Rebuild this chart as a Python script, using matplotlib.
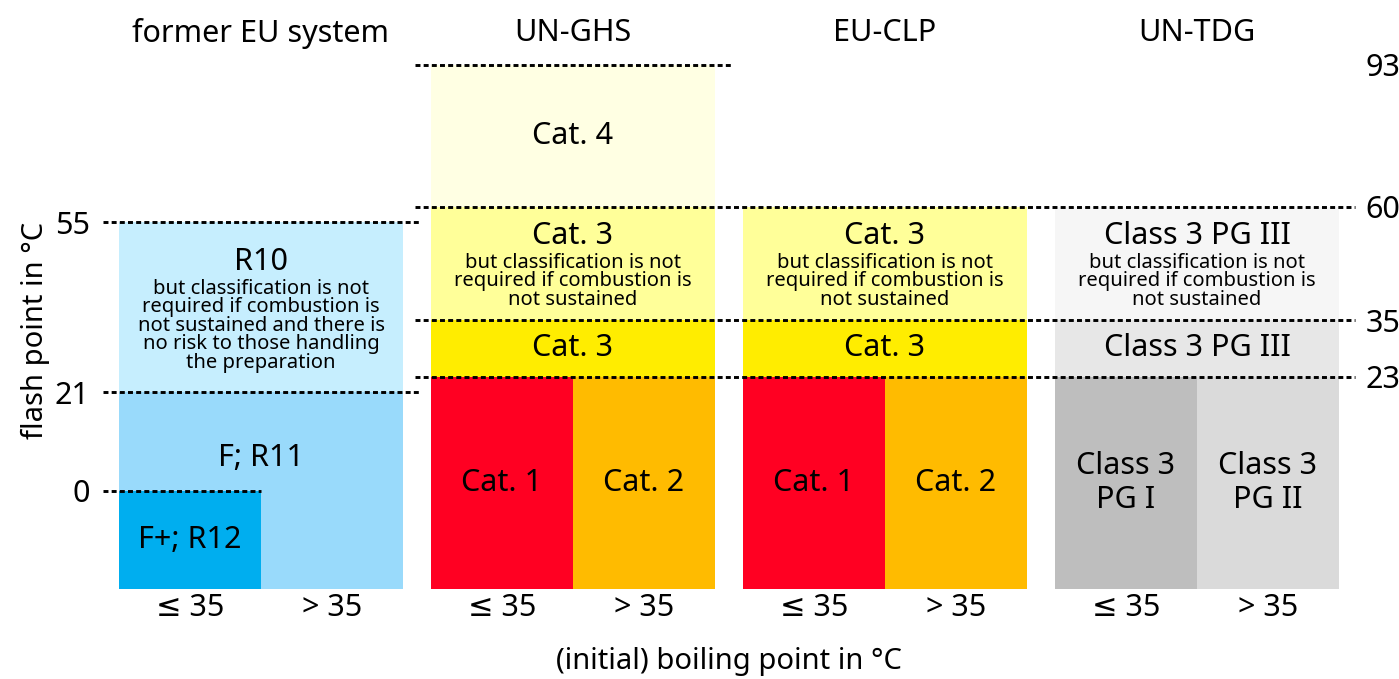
import matplotlib.pyplot as plt
import numpy as np

plt.rcParams['font.family'] = ['Noto Sans', 'DejaVu Sans']

systems = ["former EU system", "UN-GHS", "EU-CLP", "UN-TDG"]
boiling_labels = ["≤ 35", "> 35"]
left_ticks = [0, 21, 55]
right_ticks = [23, 35, 60, 93]
floor = -21  # bottom of the schematic flash point axis

note_short = "but classification is not\nrequired if combustion is\nnot sustained"
note_long = ("but classification is not\nrequired if combustion is\n"
             "not sustained and there is\nno risk to those handling\nthe preparation")

# (columns, flash point from, flash point to, colour, label, note)
# columns: 'both', 'low' (bp <= 35) or 'high' (bp > 35)
eu_old = [
    ("both", 21, 55, "#c6eefe", "R10", note_long),
    ("both", floor, 21, "#99dafb", "F; R11", None),
    ("low", floor, 0, "#00aeef", "F+; R12", None),
]
un_ghs = [
    ("both", 60, 93, "#ffffe3", "Cat. 4", None),
    ("both", 35, 60, "#ffff99", "Cat. 3", note_short),
    ("both", 23, 35, "#ffed00", "Cat. 3", None),
    ("low", floor, 23, "#ff0022", "Cat. 1", None),
    ("high", floor, 23, "#ffbb00", "Cat. 2", None),
]
eu_clp = [
    ("both", 35, 60, "#ffff99", "Cat. 3", note_short),
    ("both", 23, 35, "#ffed00", "Cat. 3", None),
    ("low", floor, 23, "#ff0022", "Cat. 1", None),
    ("high", floor, 23, "#ffbb00", "Cat. 2", None),
]
un_tdg = [
    ("both", 35, 60, "#f6f6f6", "Class 3 PG III", note_short),
    ("both", 23, 35, "#e7e7e7", "Class 3 PG III", None),
    ("low", floor, 23, "#bebebe", "Class 3\nPG I", None),
    ("high", floor, 23, "#dadada", "Class 3\nPG II", None),
]
boxes = [eu_old, un_ghs, eu_clp, un_tdg]
label_at = {"F; R11": 7}

# dashed threshold lines: value, from panel, to panel (0.5 = half a panel)
thresholds = [(55, 0, 1), (21, 0, 1), (0, 0, 0.5),
              (93, 1, 2), (60, 1, 4), (35, 1, 4), (23, 1, 4)]

# schematic (uneven) spacing of the flash point axis
scale_vals = [floor, 0, 21, 23, 35, 55, 60, 93]
scale_pos = [0, 98, 197, 212, 269, 367, 382, 524]


def fwd(v):
    return np.interp(v, scale_vals, scale_pos)


def inv(p):
    return np.interp(p, scale_pos, scale_vals)


gap = 28 / 284

W, H = 1399, 679
fig = plt.figure(figsize=(W / 100, H / 100), dpi=100)
ax = fig.add_axes([119 / W, (H - 589) / H, 1220 / W, 524 / H])
ax.set_yscale('function', functions=(fwd, inv))
ax.set_xlim(0, 4 + 3 * gap)
ax.set_ylim(floor, 93)

for i, panel in enumerate(boxes):
    x0 = i * (1 + gap)
    for cols, lo, hi, color, label, note in panel:
        xl = x0 + (0.5 if cols == "high" else 0)
        w = 1 if cols == "both" else 0.5
        ax.bar(xl, hi - lo, width=w, bottom=lo, align='edge', color=color,
               linewidth=0, zorder=1)
        xc = xl + w / 2
        yc = label_at.get(label, inv((fwd(lo) + fwd(hi)) / 2))
        if note is None:
            ax.text(xc, yc, label, ha='center', va='center', fontsize=22,
                    linespacing=1.15, zorder=4)
        else:
            n = note.count("\n") + 1
            dy = (2 + 14 + (n - 1) * 12.6) / 2 - 1  # points
            t = ax.annotate(label, xy=(xc, yc), xytext=(0, dy),
                            textcoords='offset points', ha='center',
                            va='center', fontsize=22, zorder=4)
            ax.annotate(note, xy=(0.5, 0), xycoords=t, xytext=(0, -1),
                        textcoords='offset points', ha='center', va='top',
                        fontsize=14.5, linespacing=0.9, zorder=4)
    ax.text(x0 + 0.5, 1.061, systems[i], transform=ax.get_xaxis_transform(),
            ha='center', va='center', fontsize=22)

over = 0.055
for val, a, b in thresholds:
    xs = a * (1 + gap) - over
    if float(b).is_integer():
        xe = (b - 1) * (1 + gap) + 1 + over
    else:
        xe = b
    ax.hlines(val, xs, xe, colors='black', linewidth=2.1,
              linestyles=(0, (1.7, 1.1)), clip_on=False, zorder=3)

xt = [i * (1 + gap) + f for i in range(4) for f in (0.25, 0.75)]
ax.set_xticks(xt)
ax.set_xticklabels(boiling_labels * 4, fontsize=22)
ax.tick_params(axis='x', length=0, pad=3)
ax.set_yticks(left_ticks)
ax.set_yticklabels([str(v) for v in left_ticks], fontsize=22)
ax.tick_params(axis='y', length=0, pad=21)

ax2 = ax.twinx()
ax2.set_yscale('function', functions=(fwd, inv))
ax2.set_ylim(floor, 93)
ax2.set_yticks(right_ticks)
ax2.set_yticklabels([str(v) for v in right_ticks], fontsize=22)
ax2.tick_params(axis='y', length=0, pad=19)

for a_ in (ax, ax2):
    for s in a_.spines.values():
        s.set_visible(False)

ax.set_xlabel("(initial) boiling point in °C", fontsize=21)
ax.xaxis.set_label_coords(0.5, -(662 - 589) / 524)
ax.xaxis.label.set_va('center')
fig.text(35 / W, 1 - 330 / H, "flash point in °C", rotation=90,
         ha='center', va='center', fontsize=21)

fig.savefig("out.png", dpi=100)
